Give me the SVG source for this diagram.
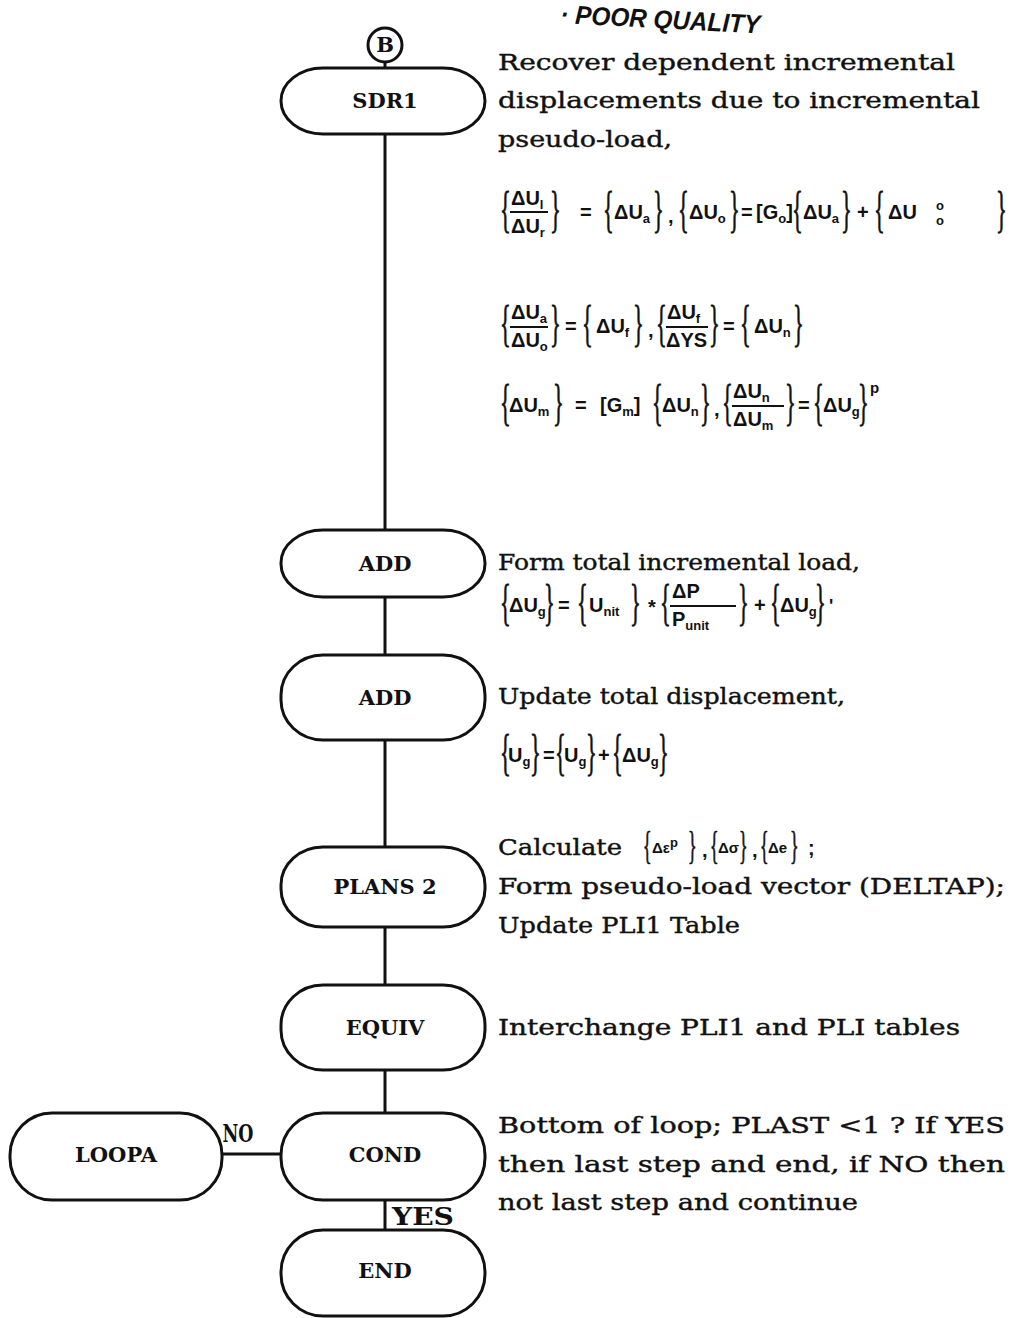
<svg xmlns="http://www.w3.org/2000/svg" xmlns:xlink="http://www.w3.org/1999/xlink" width="1012" height="1318" viewBox="0 0 1012 1318">
<style>
.node{fill:#fff;stroke:#111;stroke-width:3}
.conn line{stroke:#111;stroke-width:3}
.nt{font-family:"DejaVu Serif","Liberation Serif",serif;font-weight:bold;font-size:21px;fill:#111;text-anchor:middle}
.tx{font-family:"DejaVu Serif","Liberation Serif",serif;font-size:22px;fill:#111;stroke:#111;stroke-width:0.4}
.lb{font-family:"DejaVu Serif","Liberation Serif",serif;font-weight:bold;font-size:25px;fill:#111;text-anchor:middle}
.m{font-family:"Liberation Sans",Arial,sans-serif;font-weight:bold;font-size:20px;fill:#111}
.s{font-size:13px}
.br{font-family:"Liberation Serif","Times New Roman",serif;font-size:50px;fill:#111;stroke:#111;stroke-width:0.8}
.br2{font-family:"Liberation Serif","Times New Roman",serif;font-size:40px;fill:#111;stroke:#111;stroke-width:0.8}
.bar{stroke:#111;stroke-width:2}
.hd{font-family:"Liberation Sans",Arial,sans-serif;font-weight:bold;font-style:italic;font-size:26px;fill:#111}
</style>
<defs>
<text id="L" class="br" transform="scale(0.45,1)">{</text>
<text id="R" class="br" transform="scale(0.45,1)">}</text>
<text id="l2" class="br2" transform="scale(0.45,1)">{</text>
<text id="r2" class="br2" transform="scale(0.45,1)">}</text>
</defs>

<text class="hd" x="560" y="23" transform="rotate(3 560 23)" textLength="200" lengthAdjust="spacingAndGlyphs">· POOR QUALITY</text>

<g id="connectors" class="conn">
<line x1="385" y1="62" x2="385" y2="68"/>
<line x1="385" y1="134" x2="385" y2="530"/>
<line x1="385" y1="597" x2="385" y2="655"/>
<line x1="385" y1="740" x2="385" y2="847"/>
<line x1="385" y1="927" x2="385" y2="985"/>
<line x1="385" y1="1070" x2="385" y2="1113"/>
<line x1="385" y1="1200" x2="385" y2="1230"/>
<line x1="222" y1="1154" x2="281" y2="1154"/>
</g>

<g id="nodeB"><circle class="node" cx="385" cy="45" r="17"/><text class="nt" x="385" y="52">B</text></g>
<g id="SDR1"><rect class="node" x="281" y="68" width="204" height="66" rx="42" ry="33"/><text class="nt" x="385" y="108">SDR1</text></g>
<g id="ADD1"><rect class="node" x="281" y="530" width="204" height="67" rx="42" ry="33"/><text class="nt" x="385" y="571">ADD</text></g>
<g id="ADD2"><rect class="node" x="281" y="655" width="204" height="85" rx="42" ry="40"/><text class="nt" x="385" y="705">ADD</text></g>
<g id="PLANS2"><rect class="node" x="281" y="847" width="204" height="80" rx="42" ry="38"/><text class="nt" x="385" y="894">PLANS 2</text></g>
<g id="EQUIV"><rect class="node" x="281" y="985" width="204" height="85" rx="42" ry="40"/><text class="nt" x="385" y="1035">EQUIV</text></g>
<g id="COND"><rect class="node" x="281" y="1113" width="204" height="87" rx="42" ry="42"/><text class="nt" x="385" y="1162">COND</text></g>
<g id="END"><rect class="node" x="281" y="1230" width="204" height="86" rx="42" ry="42"/><text class="nt" x="385" y="1278">END</text></g>
<g id="LOOPA"><rect class="node" x="10" y="1113" width="212" height="87" rx="42" ry="42"/><text class="nt" x="116" y="1162">LOOPA</text></g>

<g id="labels">
<text class="lb" x="238" y="1142" textLength="31" lengthAdjust="spacingAndGlyphs">NO</text>
<text class="lb" x="423" y="1225" textLength="62" lengthAdjust="spacingAndGlyphs">YES</text>
</g>

<g id="desc-SDR1">
<text class="tx" x="498" y="70" textLength="457" lengthAdjust="spacingAndGlyphs">Recover dependent incremental</text>
<text class="tx" x="498" y="108" textLength="482" lengthAdjust="spacingAndGlyphs">displacements due to incremental</text>
<text class="tx" x="498" y="147" textLength="174" lengthAdjust="spacingAndGlyphs">pseudo-load,</text>
<!-- row 1 -->
<use xlink:href="#L" x="500" y="226"/>
<text class="m" x="511" y="205">ΔU<tspan class="s" dy="4">l</tspan></text>
<line class="bar" x1="510" y1="212" x2="548" y2="212"/>
<text class="m" x="511" y="233">ΔU<tspan class="s" dy="4">r</tspan></text>
<use xlink:href="#R" x="550" y="226"/>
<text class="m" x="580" y="219">=</text>
<use xlink:href="#L" x="603" y="226"/>
<text class="m" x="614" y="219">ΔU<tspan class="s" dy="4">a</tspan></text>
<use xlink:href="#R" x="653" y="226"/>
<text class="m" x="668" y="223">,</text>
<use xlink:href="#L" x="678" y="226"/>
<text class="m" x="689" y="219">ΔU<tspan class="s" dy="4">o</tspan></text>
<use xlink:href="#R" x="729" y="226"/>
<text class="m" x="741" y="219">=</text>
<text class="m" x="756" y="219">[G<tspan class="s" dy="4">o</tspan><tspan dy="-4">]</tspan></text>
<use xlink:href="#L" x="792" y="226"/>
<text class="m" x="803" y="219">ΔU<tspan class="s" dy="4">a</tspan></text>
<use xlink:href="#R" x="841" y="226"/>
<text class="m" x="857" y="219">+</text>
<use xlink:href="#L" x="874" y="226"/>
<text class="m" x="888" y="219">ΔU</text>
<text class="m s" x="936" y="210">o</text>
<text class="m s" x="936" y="225">o</text>
<use xlink:href="#R" x="996" y="226"/>
<!-- row 2 -->
<use xlink:href="#L" x="500" y="340"/>
<text class="m" x="511" y="319">ΔU<tspan class="s" dy="4">a</tspan></text>
<line class="bar" x1="510" y1="327" x2="548" y2="327"/>
<text class="m" x="511" y="347">ΔU<tspan class="s" dy="4">o</tspan></text>
<use xlink:href="#R" x="550" y="340"/>
<text class="m" x="565" y="333">=</text>
<use xlink:href="#L" x="582" y="340"/>
<text class="m" x="596" y="333">ΔU<tspan class="s" dy="4">f</tspan></text>
<use xlink:href="#R" x="633" y="340"/>
<text class="m" x="648" y="337">,</text>
<use xlink:href="#L" x="656" y="340"/>
<text class="m" x="667" y="319">ΔU<tspan class="s" dy="4">f</tspan></text>
<line class="bar" x1="666" y1="327" x2="708" y2="327"/>
<text class="m" x="666" y="347">ΔYS</text>
<use xlink:href="#R" x="709" y="340"/>
<text class="m" x="723" y="333">=</text>
<use xlink:href="#L" x="740" y="340"/>
<text class="m" x="754" y="333">ΔU<tspan class="s" dy="4">n</tspan></text>
<use xlink:href="#R" x="793" y="340"/>
<!-- row 3 -->
<use xlink:href="#L" x="500" y="419"/>
<text class="m" x="509" y="412">ΔU<tspan class="s" dy="4">m</tspan></text>
<use xlink:href="#R" x="553" y="419"/>
<text class="m" x="575" y="412">=</text>
<text class="m" x="600" y="412">[G<tspan class="s" dy="4">m</tspan><tspan dy="-4">]</tspan></text>
<use xlink:href="#L" x="652" y="419"/>
<text class="m" x="662" y="412">ΔU<tspan class="s" dy="4">n</tspan></text>
<use xlink:href="#R" x="700" y="419"/>
<text class="m" x="714" y="416">,</text>
<use xlink:href="#L" x="722" y="419"/>
<text class="m" x="733" y="398">ΔU<tspan class="s" dy="4">n</tspan></text>
<line class="bar" x1="732" y1="406" x2="784" y2="406"/>
<text class="m" x="733" y="426">ΔU<tspan class="s" dy="4">m</tspan></text>
<use xlink:href="#R" x="785" y="419"/>
<text class="m" x="798" y="412">=</text>
<use xlink:href="#L" x="813" y="419"/>
<text class="m" x="823" y="412">ΔU<tspan class="s" dy="4">g</tspan></text>
<use xlink:href="#R" x="858" y="419"/>
<text class="m" x="870" y="393" style="font-size:15px">p</text>
</g>

<g id="desc-ADD1">
<text class="tx" x="498" y="570" textLength="362" lengthAdjust="spacingAndGlyphs">Form total incremental load,</text>
<use xlink:href="#L" x="500" y="619"/>
<text class="m" x="509" y="612">ΔU<tspan class="s" dy="4">g</tspan></text>
<use xlink:href="#R" x="544" y="619"/>
<text class="m" x="558" y="612">=</text>
<use xlink:href="#L" x="577" y="619"/>
<text class="m" x="589" y="612">U<tspan class="s" dy="4">nit</tspan></text>
<use xlink:href="#R" x="630" y="619"/>
<text class="m" x="648" y="614">*</text>
<use xlink:href="#L" x="660" y="619"/>
<text class="m" x="672" y="598">ΔP</text>
<line class="bar" x1="670" y1="606" x2="736" y2="606"/>
<text class="m" x="672" y="626">P<tspan class="s" dy="4">unit</tspan></text>
<use xlink:href="#R" x="738" y="619"/>
<text class="m" x="754" y="612">+</text>
<use xlink:href="#L" x="770" y="619"/>
<text class="m" x="780" y="612">ΔU<tspan class="s" dy="4">g</tspan></text>
<use xlink:href="#R" x="815" y="619"/>
<text class="m" x="829" y="612" style="font-size:18px">'</text>
</g>

<g id="desc-ADD2">
<text class="tx" x="498" y="704" textLength="347" lengthAdjust="spacingAndGlyphs">Update total displacement,</text>
<use xlink:href="#L" x="500" y="769"/>
<text class="m" x="508" y="762">U<tspan class="s" dy="4">g</tspan></text>
<use xlink:href="#R" x="530" y="769"/>
<text class="m" x="543" y="762">=</text>
<use xlink:href="#L" x="555" y="769"/>
<text class="m" x="564" y="762">U<tspan class="s" dy="4">g</tspan></text>
<use xlink:href="#R" x="586" y="769"/>
<text class="m" x="598" y="762">+</text>
<use xlink:href="#L" x="612" y="769"/>
<text class="m" x="622" y="762">ΔU<tspan class="s" dy="4">g</tspan></text>
<use xlink:href="#R" x="658" y="769"/>
</g>

<g id="desc-PLANS2">
<text class="tx" x="498" y="855" textLength="124" lengthAdjust="spacingAndGlyphs">Calculate</text>
<use xlink:href="#l2" x="643" y="859"/>
<text class="m" x="652" y="853" style="font-size:15px">Δε<tspan class="s" dy="-6">p</tspan></text>
<use xlink:href="#r2" x="688" y="859"/>
<text class="m" x="702" y="857">,</text>
<use xlink:href="#l2" x="710" y="859"/>
<text class="m" x="718" y="853" style="font-size:15px">Δσ</text>
<use xlink:href="#r2" x="739" y="859"/>
<text class="m" x="752" y="857">,</text>
<use xlink:href="#l2" x="760" y="859"/>
<text class="m" x="768" y="853" style="font-size:15px">Δe</text>
<use xlink:href="#r2" x="790" y="859"/>
<text class="m" x="808" y="855">;</text>
<text class="tx" x="498" y="894" textLength="507" lengthAdjust="spacingAndGlyphs">Form pseudo-load vector (DELTAP);</text>
<text class="tx" x="498" y="933" textLength="242" lengthAdjust="spacingAndGlyphs">Update PLI1 Table</text>
</g>

<g id="desc-EQUIV">
<text class="tx" x="498" y="1035" textLength="462" lengthAdjust="spacingAndGlyphs">Interchange PLI1 and PLI tables</text>
</g>

<g id="desc-COND">
<text class="tx" x="498" y="1133" textLength="507" lengthAdjust="spacingAndGlyphs">Bottom of loop; PLAST &lt;1 ?  If YES</text>
<text class="tx" x="498" y="1172" textLength="507" lengthAdjust="spacingAndGlyphs">then last step and end, if NO then</text>
<text class="tx" x="498" y="1210" textLength="360" lengthAdjust="spacingAndGlyphs">not last step and continue</text>
</g>
</svg>
